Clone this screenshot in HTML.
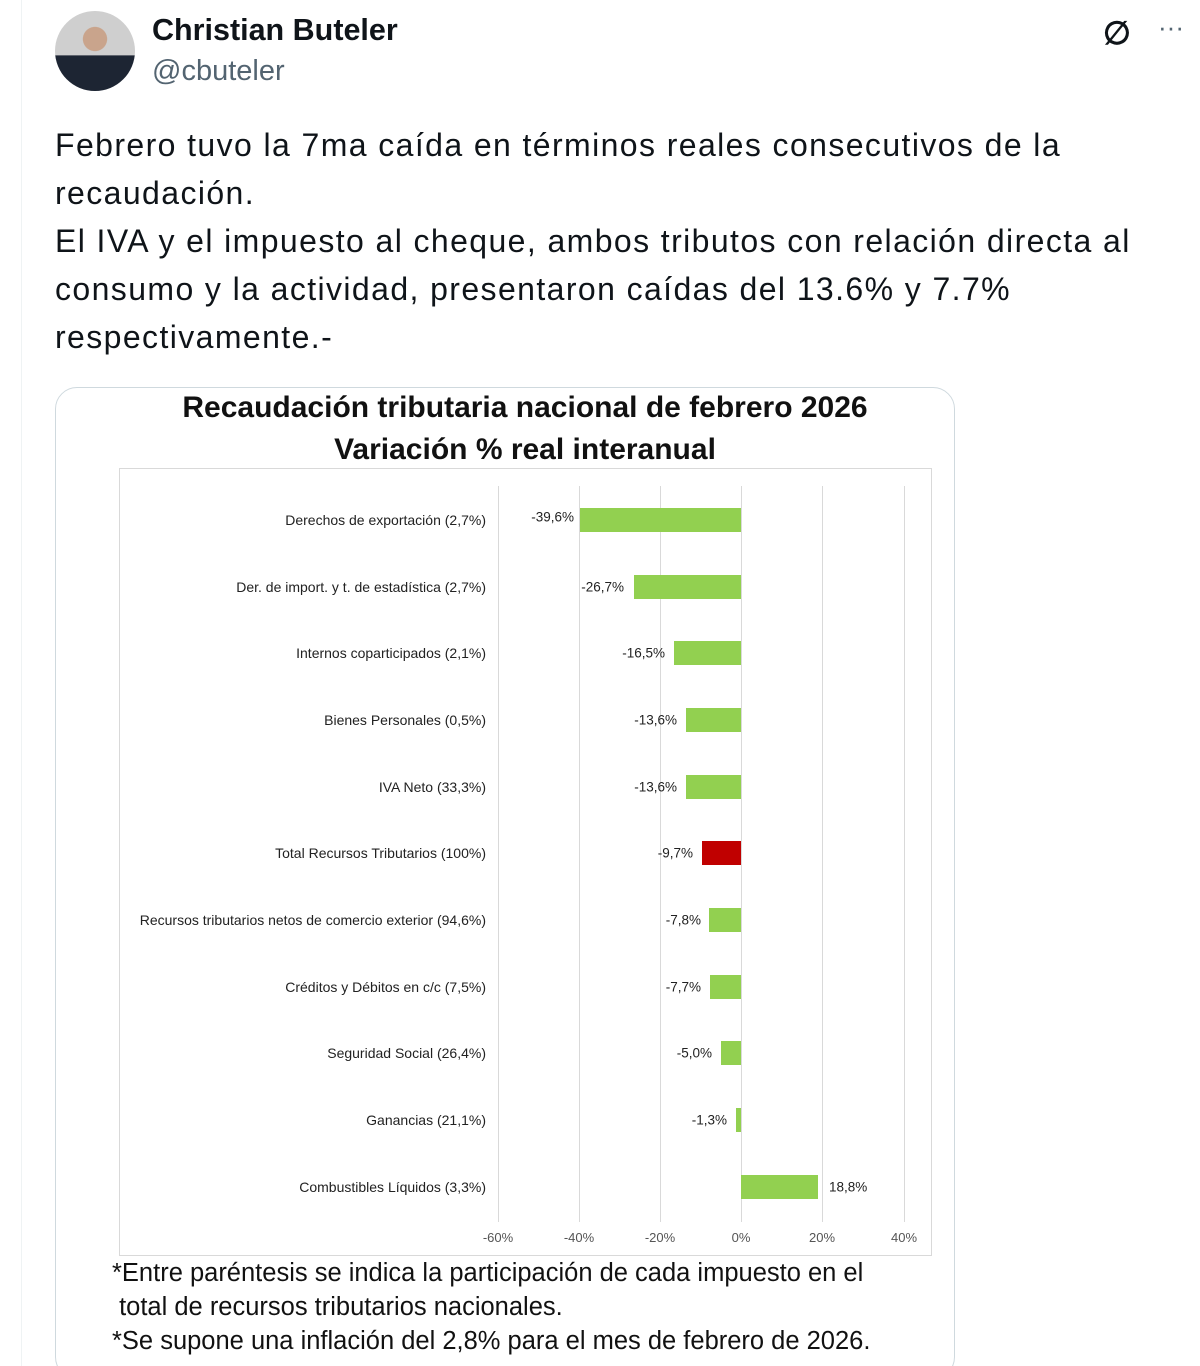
<!DOCTYPE html>
<html style="overflow:hidden;height:1366px"><head><meta charset="utf-8"><style>
body{margin:0;width:1200px;height:1366px;background:#fff;font-family:"Liberation Sans",sans-serif;position:relative;overflow:hidden;color:#0f1419}
.abs{position:absolute}
.lab{position:absolute;right:714px;font-size:14px;color:#222;white-space:nowrap;transform:translateY(-50%)}
.val{position:absolute;font-size:13.5px;color:#222;white-space:nowrap;transform:translateY(-50%)}
.bar{position:absolute;height:24px;background:#92d050;transform:translateY(-50%)}
.grid{position:absolute;top:486px;height:736px;width:1px;background:#d9d9d9}
.tick{position:absolute;top:1230px;font-size:13px;color:#555;transform:translateX(-50%)}
</style></head><body>
<div class="abs" style="left:21px;top:0;width:1px;height:1366px;background:#eff3f4"></div>
<div class="abs" style="left:55px;top:11px;width:80px;height:80px;border-radius:50%;background:radial-gradient(circle at 50% 35%,#c9a48c 0 18%,transparent 19%),linear-gradient(#cfcfcf 55%,#1d2533 56%)"></div>
<div class="abs" style="left:152px;top:13px;font-size:30.5px;font-weight:bold">Christian Buteler</div>
<div class="abs" style="left:152px;top:55px;font-size:29px;color:#536471">@cbuteler</div>
<div class="abs" style="left:1103px;top:14px;font-size:32px;font-weight:bold">∅</div>
<div class="abs" style="left:1158px;top:12px;font-size:26px;color:#536471">···</div>
<div class="abs" style="left:55px;top:121px;font-size:32px;letter-spacing:1.4px;line-height:48px;white-space:nowrap">Febrero tuvo la 7ma caída en términos reales consecutivos de la<br>recaudación.<br>El IVA y el impuesto al cheque, ambos tributos con relación directa al<br>consumo y la actividad, presentaron caídas del 13.6% y 7.7%<br>respectivamente.-</div>
<div class="abs" style="left:55px;top:387px;width:898px;height:990px;border:1px solid #cfd9de;border-radius:22px"></div>
<div class="abs" style="left:55px;top:387px;width:940px;text-align:center;font-size:30px;font-weight:bold;line-height:42px;color:#111">Recaudación tributaria nacional de febrero 2026<br>Variación % real interanual</div>
<div class="abs" style="left:119px;top:468px;width:811px;height:786px;border:1px solid #d9d9d9"></div>
<div class="grid" style="left:498px"></div><div class="grid" style="left:579px"></div><div class="grid" style="left:660px"></div><div class="grid" style="left:741px"></div><div class="grid" style="left:822px"></div><div class="grid" style="left:904px"></div>
<div class="tick" style="left:498px">-60%</div><div class="tick" style="left:579px">-40%</div><div class="tick" style="left:660px">-20%</div><div class="tick" style="left:741px">0%</div><div class="tick" style="left:822px">20%</div><div class="tick" style="left:904px">40%</div>

<div class="lab" style="top:520px">Derechos de exportación (2,7%)</div><div class="bar" style="top:520px;left:580px;width:161px"></div><div class="val" style="top:517px;right:626px">-39,6%</div>
<div class="lab" style="top:587px">Der. de import. y t. de estadística (2,7%)</div><div class="bar" style="top:587px;left:634px;width:107px"></div><div class="val" style="top:587px;right:576px">-26,7%</div>
<div class="lab" style="top:653px">Internos coparticipados (2,1%)</div><div class="bar" style="top:653px;left:674px;width:67px"></div><div class="val" style="top:653px;right:535px">-16,5%</div>
<div class="lab" style="top:720px">Bienes Personales (0,5%)</div><div class="bar" style="top:720px;left:686px;width:55px"></div><div class="val" style="top:720px;right:523px">-13,6%</div>
<div class="lab" style="top:787px">IVA Neto (33,3%)</div><div class="bar" style="top:787px;left:686px;width:55px"></div><div class="val" style="top:787px;right:523px">-13,6%</div>
<div class="lab" style="top:853px">Total Recursos Tributarios (100%)</div><div class="bar" style="top:853px;left:702px;width:39px;background:#c00000"></div><div class="val" style="top:853px;right:507px">-9,7%</div>
<div class="lab" style="top:920px">Recursos tributarios netos de comercio exterior (94,6%)</div><div class="bar" style="top:920px;left:709px;width:32px"></div><div class="val" style="top:920px;right:499px">-7,8%</div>
<div class="lab" style="top:987px">Créditos y Débitos en c/c (7,5%)</div><div class="bar" style="top:987px;left:710px;width:31px"></div><div class="val" style="top:987px;right:499px">-7,7%</div>
<div class="lab" style="top:1053px">Seguridad Social (26,4%)</div><div class="bar" style="top:1053px;left:721px;width:20px"></div><div class="val" style="top:1053px;right:488px">-5,0%</div>
<div class="lab" style="top:1120px">Ganancias (21,1%)</div><div class="bar" style="top:1120px;left:736px;width:5px"></div><div class="val" style="top:1120px;right:473px">-1,3%</div>
<div class="lab" style="top:1187px">Combustibles Líquidos (3,3%)</div><div class="bar" style="top:1187px;left:741px;width:77px"></div><div class="val" style="top:1187px;left:829px">18,8%</div>

<div class="abs" style="left:112px;top:1256px;font-size:25.5px;line-height:34px;color:#111;white-space:nowrap">*Entre paréntesis se indica la participación de cada impuesto en el<br>&nbsp;total de recursos tributarios nacionales.<br>*Se supone una inflación del 2,8% para el mes de febrero de 2026.</div>
</body></html>
